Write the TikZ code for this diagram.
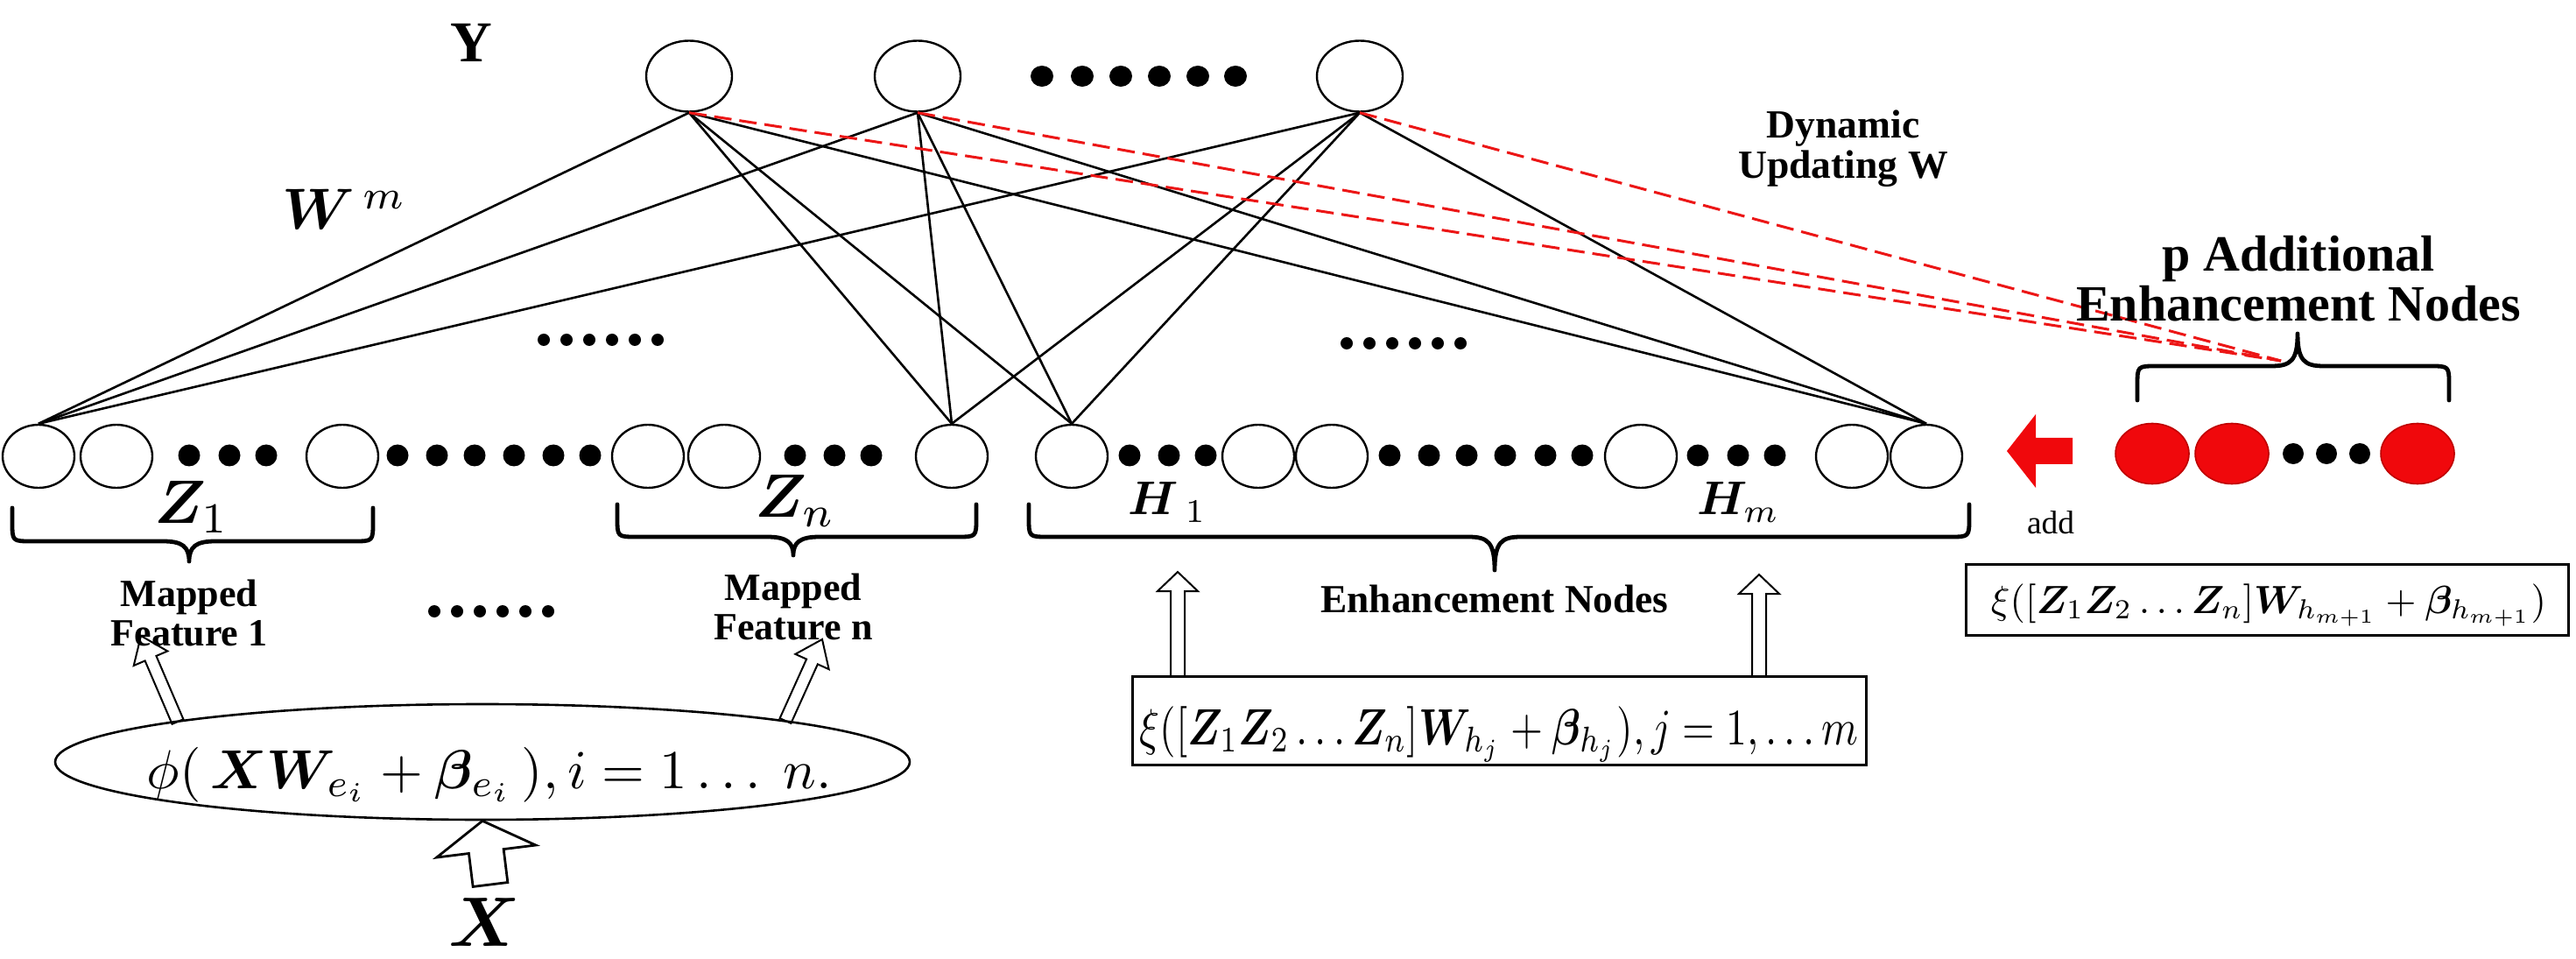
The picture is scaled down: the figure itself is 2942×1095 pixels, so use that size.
\documentclass[tikz,border=0pt]{standalone}
\usepackage{amsmath}
\usepackage{bm}
\usepackage{graphicx}
\usepackage{fontspec}
\setmainfont{Liberation Serif}
\usetikzlibrary{shapes.geometric,calc}
\definecolor{nodered}{RGB}{240,8,12}
\definecolor{dashred}{RGB}{236,22,22}
\newcommand\fsz[2]{\fontsize{#1}{#2}\selectfont}
% horizontal curly brace: x1, x2, y of ends, y of line, x of tip, y of tip
\newcommand\hbrace[6]{%
  \draw[bracestyle] (#1,#3) -- (#1,{#4+22*sign(#3-#4)})
    .. controls (#1,#4) .. ({#1+22},#4)
    -- ({#5-30},#4)
    .. controls ({#5-8},#4) and (#5,{#4+6*sign(#6-#4)}) .. (#5,#6)
    .. controls (#5,{#4+6*sign(#6-#4)}) and ({#5+8},#4) .. ({#5+30},#4)
    -- ({#2-22},#4)
    .. controls (#2,#4) .. (#2,{#4+22*sign(#3-#4)})
    -- (#2,#3);}
% hollow arrow: start, end (coordinate names), half shaft, half head, head length, style
\newcommand\hollowarrow[6]{%
  \coordinate (hb) at ($(#2)!#5!(#1)$);
  \draw[#6] ($(#1)!#3!90:(#2)$) -- ($(hb)!#3!90:(#2)$) -- ($(hb)!#4!90:(#2)$)
    -- (#2) -- ($(hb)!#4!-90:(#2)$) -- ($(hb)!#3!-90:(#2)$) -- ($(#1)!#3!-90:(#2)$) -- cycle;}
\begin{document}
\begin{tikzpicture}[x=0.5pt,y=-0.5pt,
  bnode/.style={ellipse,draw,line width=1.2pt,minimum width=41pt,minimum height=36pt,inner sep=0pt},
  tnode/.style={ellipse,draw,line width=1.2pt,minimum width=49pt,minimum height=40.5pt,inner sep=0pt},
  rnode/.style={ellipse,draw=red!75!black,fill=nodered,line width=0.8pt,minimum width=42pt,minimum height=34.5pt,inner sep=0pt},
  wline/.style={line width=1.3pt},
  rdash/.style={dashred,line width=1.5pt,dash pattern=on 10pt off 4.5pt},
  bracestyle/.style={line width=2.4pt,line cap=round,line join=round},
  lab/.style={inner sep=0pt},
  boxstyle/.style={draw,line width=1.5pt,inner sep=0pt},
  arrowline/.style={line width=1pt,line join=miter}
]
\useasboundingbox (0,0) rectangle (2942,1095);

% ---------- output nodes ----------
\node[tnode] (t1) at (787,87) {};
\node[tnode] (t2) at (1048,87) {};
\node[tnode] (t3) at (1553,87) {};
\foreach \x in {1190,1236,1280,1324,1368,1411} \fill (\x,87) ellipse [x radius=13, y radius=12];

% ---------- feature and enhancement nodes ----------
\foreach \n/\x in {1/44,2/133,3/391,4/740,5/827,6/1087,7/1224,8/1437,9/1521,10/1874,11/2115,12/2200}
  \node[bnode] (b\n) at (\x,521) {};
\foreach \x in {216,262,304, 454,499,542,587,632,674, 908,953,995,
                1290,1335,1377, 1587,1632,1675,1719,1765,1807, 1939,1985,2027}
  \fill (\x,520) circle [radius=12.5];

% ---------- additional nodes ----------
\node[rnode] (r1) at (2458,518) {};
\node[rnode] (r2) at (2549,518) {};
\node[rnode] (r3) at (2761,518) {};
\foreach \x in {2619,2657,2695} \fill (\x,518) circle [radius=12];

% ---------- connections ----------
\foreach \t in {t1,t2,t3}
  \foreach \b in {b1,b6,b7,b12}
    \draw[wline] (\t.south) -- (\b.north);
\coordinate (rconv) at (2605,412);
\foreach \t in {t1,t2,t3}
  \draw[rdash] (\t.south) -- (rconv);

% small dot rows
\foreach \x in {621,647,673,699,725,751} \fill (\x,388) circle [radius=7];
\foreach \x in {1538,1564,1590,1616,1642,1668} \fill (\x,392) circle [radius=7];
\foreach \x in {496,522,548,574,600,626} \fill (\x,698) circle [radius=7];

% ---------- braces ----------
\hbrace{14}{426}{580}{618}{216}{641}
\hbrace{705}{1115}{576}{613}{906}{634}
\hbrace{1175}{2249}{576}{613}{1707}{651}
\hbrace{2441}{2797}{457}{418}{2624}{381}

% ---------- labels ----------
\node[lab,font=\bfseries\fsz{33}{40}] (ylab) at (538,49) {Y};
\node[lab,anchor=base west] (wlab) at (322,262) {\scalebox{3.3}{$\bm{W}^{\,m}$}};
\node[lab,anchor=base west] (z1lab) at (176,598) {\scalebox{3.5}{$\bm{Z}_1$}};
\node[lab,anchor=base west] (znlab) at (862,591) {\scalebox{3.5}{$\bm{Z}_n$}};
\node[lab,anchor=base west] (h1lab) at (1288,588) {\scalebox{2.7}{$\bm{H}_{\;1}$}};
\node[lab,anchor=base west] (hmlab) at (1938,588) {\scalebox{2.7}{$\bm{H}_{m}$}};

\node[lab,align=center,font=\bfseries\fsz{22}{22.5}] (mf1) at (216,700) {Mapped\\Feature 1};
\node[lab,align=center,font=\bfseries\fsz{22}{22.5}] (mfn) at (906,693) {Mapped\\Feature n};
\node[lab,font=\bfseries\fsz{22.7}{27}] (enh) at (1707,684) {Enhancement Nodes};
\node[lab,align=center,font=\bfseries\fsz{22.8}{23}] (dyn) at (2105,170) {Dynamic\\Updating W};
\node[lab,align=center,font=\bfseries\fsz{29}{28.5}] (padd) at (2625,318) {p Additional\\Enhancement Nodes};
\node[lab,font=\fsz{18.7}{22}] (addlab) at (2342,597) {add};

% ---------- mapping ellipse ----------
\node[ellipse,draw,line width=1.3pt,minimum width=488pt,minimum height=66pt,inner sep=0pt] (ell) at (551,870) {};
\node[lab,anchor=base] (f1) at (559,900)
  {\resizebox{391pt}{!}{$\phi(\,\bm{X}\bm{W}_{e_i}+\bm{\beta}_{e_i}\,),i=1\ldots\ n.$}};
\coordinate (ma1s) at (203,824);
\coordinate (ma1e) at (161,726);
\coordinate (mans) at (897,823);
\coordinate (mane) at (939,730);
\hollowarrow{ma1s}{ma1e}{3.5pt}{10.5pt}{14pt}{arrowline}
\hollowarrow{mans}{mane}{3.5pt}{10.5pt}{14pt}{arrowline}

% input X
\node[lab,anchor=base] (xlab) at (553,1080) {\scalebox{4.0}{$\bm{X}$}};
\coordinate (xas) at (560,1010);
\hollowarrow{xas}{ell.south}{10pt}{28.5pt}{17.5pt}{line width=1.4pt,line join=miter}

% ---------- enhancement formula box ----------
\node[boxstyle,minimum width=419pt,minimum height=50.5pt] (box1) at (1712,822.5) {};
\node[lab,anchor=base] (f2) at (1712,850)
  {\resizebox*{410pt}{32pt}{$\xi([\bm{Z}_1\bm{Z}_2\ldots\bm{Z}_n]\bm{W}_{h_j}+\bm{\beta}_{h_j}),j=1,\ldots m$}};
\coordinate (ua1s) at (1345,772);
\coordinate (ua1e) at (1345,653);
\coordinate (ua2s) at (2009,772);
\coordinate (ua2e) at (2009,656);
\hollowarrow{ua1s}{ua1e}{4pt}{11.5pt}{11pt}{arrowline}
\hollowarrow{ua2s}{ua2e}{4pt}{11.5pt}{11pt}{arrowline}

% ---------- additional formula box ----------
\node[boxstyle,minimum width=344pt,minimum height=40.5pt] (box2) at (2589,684.5) {};
\node[lab,anchor=base] (f3) at (2591,700)
  {\resizebox{317pt}{!}{$\xi([\bm{Z}_1\bm{Z}_2\ldots\bm{Z}_n]\bm{W}_{h_{m+1}}+\bm{\beta}_{h_{m+1}})$}};

% ---------- red add arrow ----------
\coordinate (addtip) at (2292,515);
\fill[nodered] (addtip) -- (2325,473) -- (2325,500) -- (2367,500) -- (2367,530) -- (2325,530) -- (2325,557) -- cycle;
\end{tikzpicture}
\end{document}
